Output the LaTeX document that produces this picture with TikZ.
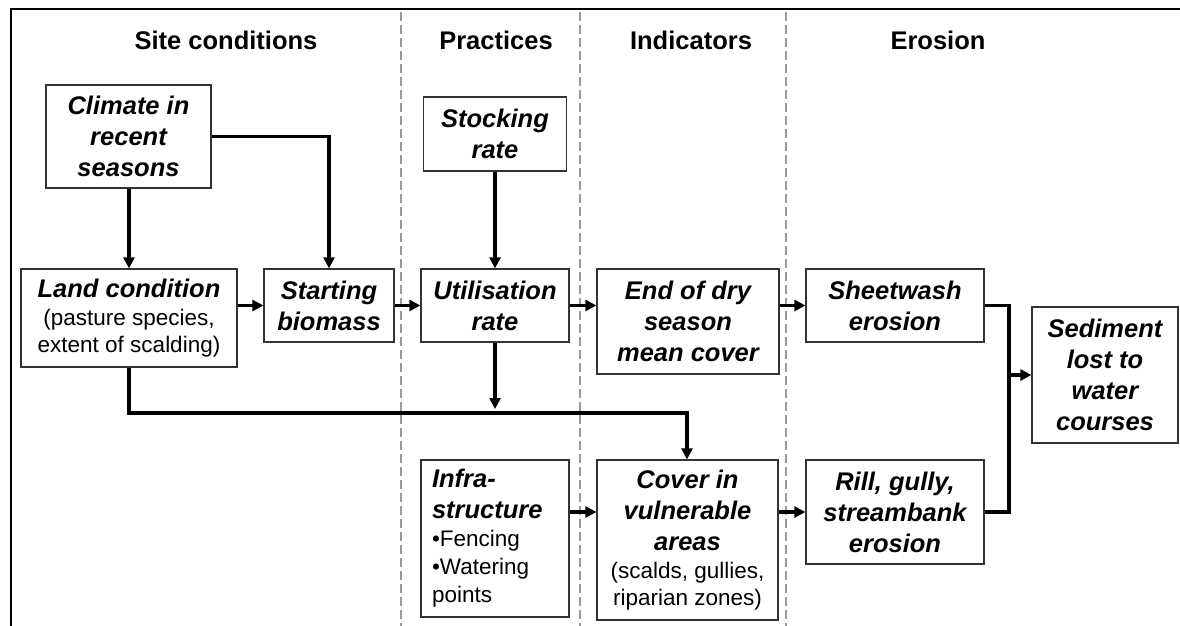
\documentclass[tikz,border=0pt]{standalone}
\usepackage{fontspec}
\setmainfont{Liberation Sans}
\usetikzlibrary{arrows.meta}
\newcommand\bitx{\fontsize{25.5}{31}\selectfont\bfseries\itshape}
\newcommand\subtx{\fontsize{22.5}{27}\selectfont\normalfont}
\newcommand\headtx{\fontsize{25.5}{31}\selectfont\bfseries}
\tikzset{
  box/.style={draw=black!80, line width=1.2pt, inner sep=0pt, align=center, font=\bitx, text=black},
  head/.style={anchor=base, inner sep=0pt, font=\headtx},
  conn/.style={line width=3.3pt, -{Triangle[length=11pt,width=11pt]}},
  line/.style={line width=3.3pt},
  sep/.style={draw=black!40, line width=1.3pt, dash pattern=on 9pt off 4pt},
}
\begin{document}
\begin{tikzpicture}[x=1pt,y=-1pt]
\useasboundingbox (0,0) rectangle (1180,626);
% frame
\draw[line width=2.5pt, black] (11,626) -- (11,9) -- (1180,9);
% column separators
\draw[sep] (401,12) -- (401,626);
\draw[sep] (580,12) -- (580,626);
\draw[sep] (786,12) -- (786,626);
% headers
\node[head] (h1) at (226,49) {Site conditions};
\node[head] (h2) at (496,49) {Practices};
\node[head] (h3) at (691,49) {Indicators};
\node[head] (h4) at (938,49) {Erosion};
% boxes
\node[box, minimum width=165pt, minimum height=103pt] (clim) at (128.5,136.5) {Climate in\\recent\\seasons};
\node[box, minimum width=143pt, minimum height=74pt] (stock) at (495,134) {Stocking\\rate};
\node[box, minimum width=216pt, minimum height=98pt] (land) at (129,318) {Land condition\\[-3pt]{\subtx (pasture species,}\\[-4pt]{\subtx extent of scalding)}};
\node[box, minimum width=130pt, minimum height=73pt] (start) at (329,305.5) {Starting\\biomass};
\node[box, minimum width=148pt, minimum height=73pt] (util) at (495,305.5) {Utilisation\\rate};
\node[box, minimum width=182pt, minimum height=105pt] (end) at (688,321.5) {End of dry\\season\\mean cover};
\node[box, minimum width=178pt, minimum height=73pt] (sheet) at (895,305.5) {Sheetwash\\erosion};
\node[box, minimum width=146pt, minimum height=136pt] (sed) at (1105,375) {Sediment\\lost to\\water\\courses};
\node[box, minimum width=178pt, minimum height=104pt] (rill) at (895,512) {Rill, gully,\\streambank\\erosion};
\node[box, minimum width=148pt, minimum height=157pt, text width=126pt, align=left] (infra) at (495,538.5) {Infra-\\structure\\[-3pt]{\subtx\textbullet Fencing}\\[-3pt]{\subtx\textbullet Watering}\\[-3pt]{\subtx points}};
\node[box, minimum width=181pt, minimum height=160pt] (cover) at (687.5,540) {Cover in\\vulnerable\\areas\\[-3pt]{\subtx (scalds, gullies,}\\[-4pt]{\subtx riparian zones)}};
% helper coordinates
\coordinate (ud) at (495,409);
\coordinate (lc) at (687,413);
\coordinate (m) at (1009,375);
% connectors
\draw[conn] (clim.south -| land.north) -- (land.north);
\draw[conn] (clim.east) -| (start.north);
\draw[conn] (land.east |- start.west) -- (start.west);
\draw[conn] (start.east) -- (util.west);
\draw[conn] (stock.south) -- (util.north);
\draw[conn] (util.east) -- (util.east -| end.west);
\draw[conn] (end.east |- sheet.west) -- (sheet.west);
\draw[conn] (util.south) -- (ud);
\draw[conn] (land.south) |- (lc) -- (lc |- cover.north);
\draw[conn] (infra.east |- rill.west) -- (cover.west |- rill.west);
\draw[conn] (cover.east |- rill.west) -- (rill.west);
\draw[line] (sheet.east) -| (m);
\draw[line] (rill.east) -| (m);
\draw[conn] (m) -- (sed.west);
\end{tikzpicture}
\end{document}
